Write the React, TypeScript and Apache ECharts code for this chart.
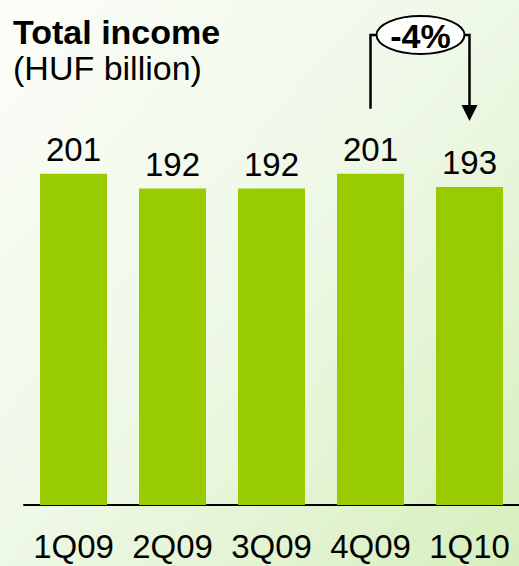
import React, { useEffect, useRef } from "react";
import * as echarts from "echarts";

const categories = ["1Q09", "2Q09", "3Q09", "4Q09", "1Q10"];
const incomeValues = [201, 192, 192, 201, 193];
const titleText = "Total income";
const subtitleText = "(HUF billion)";

const FONT = '"Liberation Sans", Arial, sans-serif';

export default function App() {
  const ref = useRef<HTMLDivElement>(null);
  useEffect(() => {
    if (!ref.current) return;
    document.body.style.margin = "0";
    const chart = echarts.init(ref.current, null, { renderer: "svg" });
    chart.setOption({
      animation: false,
      backgroundColor: new echarts.graphic.LinearGradient(0, 0, 1, 1, [
        { offset: 0, color: "#fcfdf9" },
        { offset: 0.5, color: "#eef8e6" },
        { offset: 1, color: "#d6efbd" },
      ]),
      grid: { left: 24, right: -4, top: 93, bottom: 61 },
      xAxis: {
        type: "category",
        data: categories,
        axisLine: { lineStyle: { color: "#000", width: 2 } },
        axisTick: { show: false },
        axisLabel: { color: "#000", fontSize: 33, fontFamily: FONT, margin: 25, interval: 0 },
      },
      yAxis: { type: "value", min: 0, max: 250, show: false, splitLine: { show: false } },
      series: [
        {
          type: "bar",
          data: incomeValues,
          barWidth: 67,
          itemStyle: { color: "#99cc00" },
          label: {
            show: true,
            position: "top",
            distance: 8,
            color: "#000",
            fontSize: 33,
            fontFamily: FONT,
          },
        },
      ],
    });

    const i1 = 3;
    const i2 = 4;
    const x1 = chart.convertToPixel({ xAxisIndex: 0 }, categories[i1]) as number;
    const x2 = chart.convertToPixel({ xAxisIndex: 0 }, categories[i2]) as number;
    const y1 = chart.convertToPixel({ yAxisIndex: 0 }, incomeValues[i1]) as number;
    const y2 = chart.convertToPixel({ yAxisIndex: 0 }, incomeValues[i2]) as number;
    const pct = Math.round(((incomeValues[i2] - incomeValues[i1]) / incomeValues[i1]) * 100);
    const cx = (x1 + x2) / 2 + 0.5;
    const cy = 35;
    const rx = 44;
    const ry = 19;
    const lw = 2.5;

    chart.setOption({
      graphic: [
        {
          type: "text",
          left: 13,
          top: 15,
          style: { text: titleText, fontSize: 34, fontWeight: "bold", fontFamily: FONT, fill: "#000" },
        },
        {
          type: "text",
          left: 13,
          top: 51,
          style: { text: subtitleText, fontSize: 34, fontFamily: FONT, fill: "#000" },
        },
        {
          type: "polyline",
          shape: { points: [[x1, y1 - 65], [x1, cy], [cx - rx, cy]] },
          style: { stroke: "#000", lineWidth: lw, fill: "none" },
        },
        {
          type: "polyline",
          shape: { points: [[cx + rx, cy], [x2, cy], [x2, y2 - 80]] },
          style: { stroke: "#000", lineWidth: lw, fill: "none" },
        },
        {
          type: "polygon",
          shape: { points: [[x2 - 8, y2 - 82], [x2 + 8, y2 - 82], [x2, y2 - 66]] },
          style: { fill: "#000" },
        },
        {
          type: "ellipse",
          shape: { cx, cy, rx, ry },
          style: { fill: "#fff", stroke: "#000", lineWidth: 2 },
        },
        {
          type: "text",
          x: cx,
          y: cy + 1,
          style: {
            text: `${pct}%`,
            fontSize: 34,
            fontWeight: "bold",
            fontFamily: FONT,
            fill: "#000",
            align: "center",
            verticalAlign: "middle",
          },
        },
      ],
    });

    return () => chart.dispose();
  }, []);
  return (
    <div
      ref={ref}
      style={{ position: "absolute", left: 0, top: 0, width: 519, height: 566 }}
    />
  );
}
